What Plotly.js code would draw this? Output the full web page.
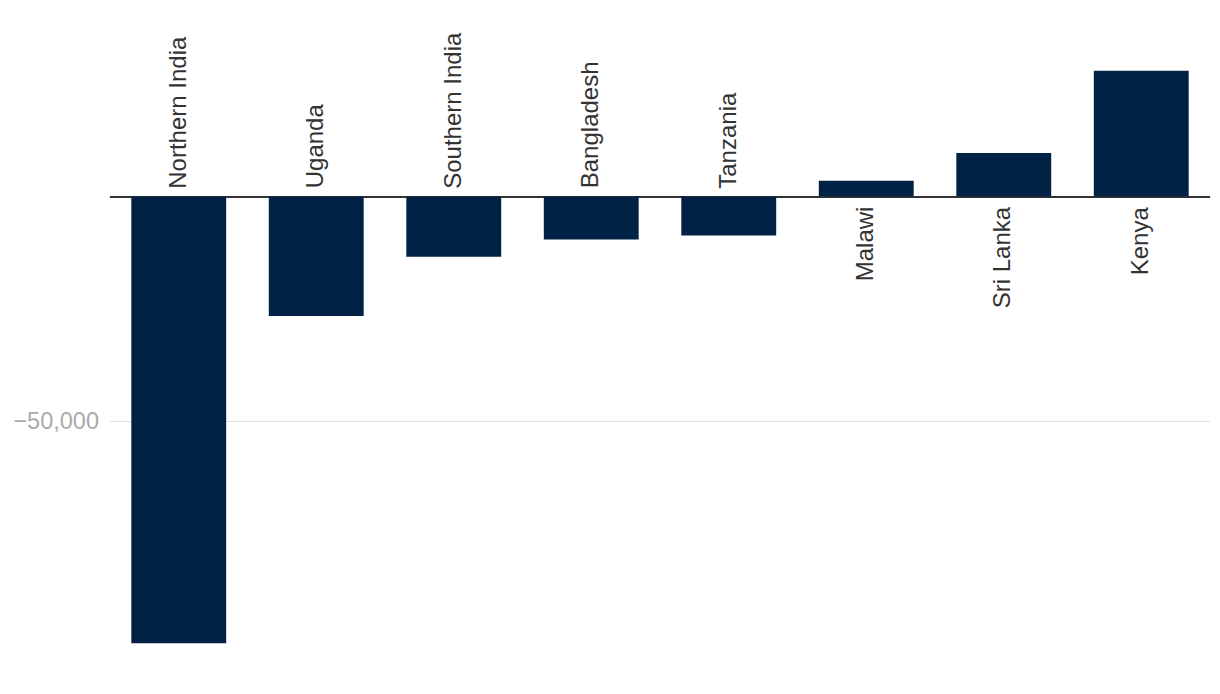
<!DOCTYPE html>
<html>
<head>
<meta charset="utf-8">
<script src="https://cdn.plot.ly/plotly-3.0.1.min.js"></script>
<style>html,body{margin:0;padding:0;background:#fff;}#chart{width:1220px;height:694px;}</style>
</head>
<body>
<div id="chart"></div>
<script>
var categories = ["Northern India", "Uganda", "Southern India", "Bangladesh", "Tanzania", "Malawi", "Sri Lanka", "Kenya"];
var values = [-99500, -26600, -13400, -9600, -8700, 3500, 9700, 28000];
var tickValues = [-50000];
var tickLabels = ["\u221250,000"];

(function () {
  var barColor = "#012245";
  var font = "Liberation Sans, Arial, sans-serif";

  var annotations = categories.map(function (c, i) {
    var neg = values[i] < 0;
    return {
      x: c, y: 0, xref: "x", yref: "y",
      text: c, showarrow: false, textangle: -90,
      yanchor: neg ? "bottom" : "top",
      yshift: neg ? 6 : -8,
      xshift: -2,
      font: {family: font, size: 24, color: "#333333"}
    };
  });

  var trace = {
    type: "bar", x: categories, y: values,
    marker: {color: barColor}, hoverinfo: "x+y"
  };

  var pxPer = 224.5 / 50000;
  var plotTop = 20, plotBottom = 660, zeroPx = 196.5;
  var layout = {
    width: 1220, height: 694,
    margin: {l: 110, r: 10, t: plotTop, b: 694 - plotBottom},
    paper_bgcolor: "#fff", plot_bgcolor: "#fff",
    bargap: 0.31,
    showlegend: false,
    xaxis: {showticklabels: false, showgrid: false, zeroline: false, showline: false, ticks: ""},
    yaxis: {
      range: [-(plotBottom - zeroPx) / pxPer, (zeroPx - plotTop) / pxPer],
      tickvals: tickValues, ticktext: tickLabels,
      showgrid: true, gridcolor: "#e0e0e0", gridwidth: 1,
      zeroline: true, zerolinecolor: "#333333", zerolinewidth: 2,
      showline: false, ticks: "", ticklabelstandoff: 10,
      tickfont: {family: font, size: 23.5, color: "#aaaaaa"}
    },
    annotations: annotations
  };
  Plotly.newPlot("chart", [trace], layout, {displayModeBar: false, staticPlot: true});
})();
</script>
</body>
</html>
